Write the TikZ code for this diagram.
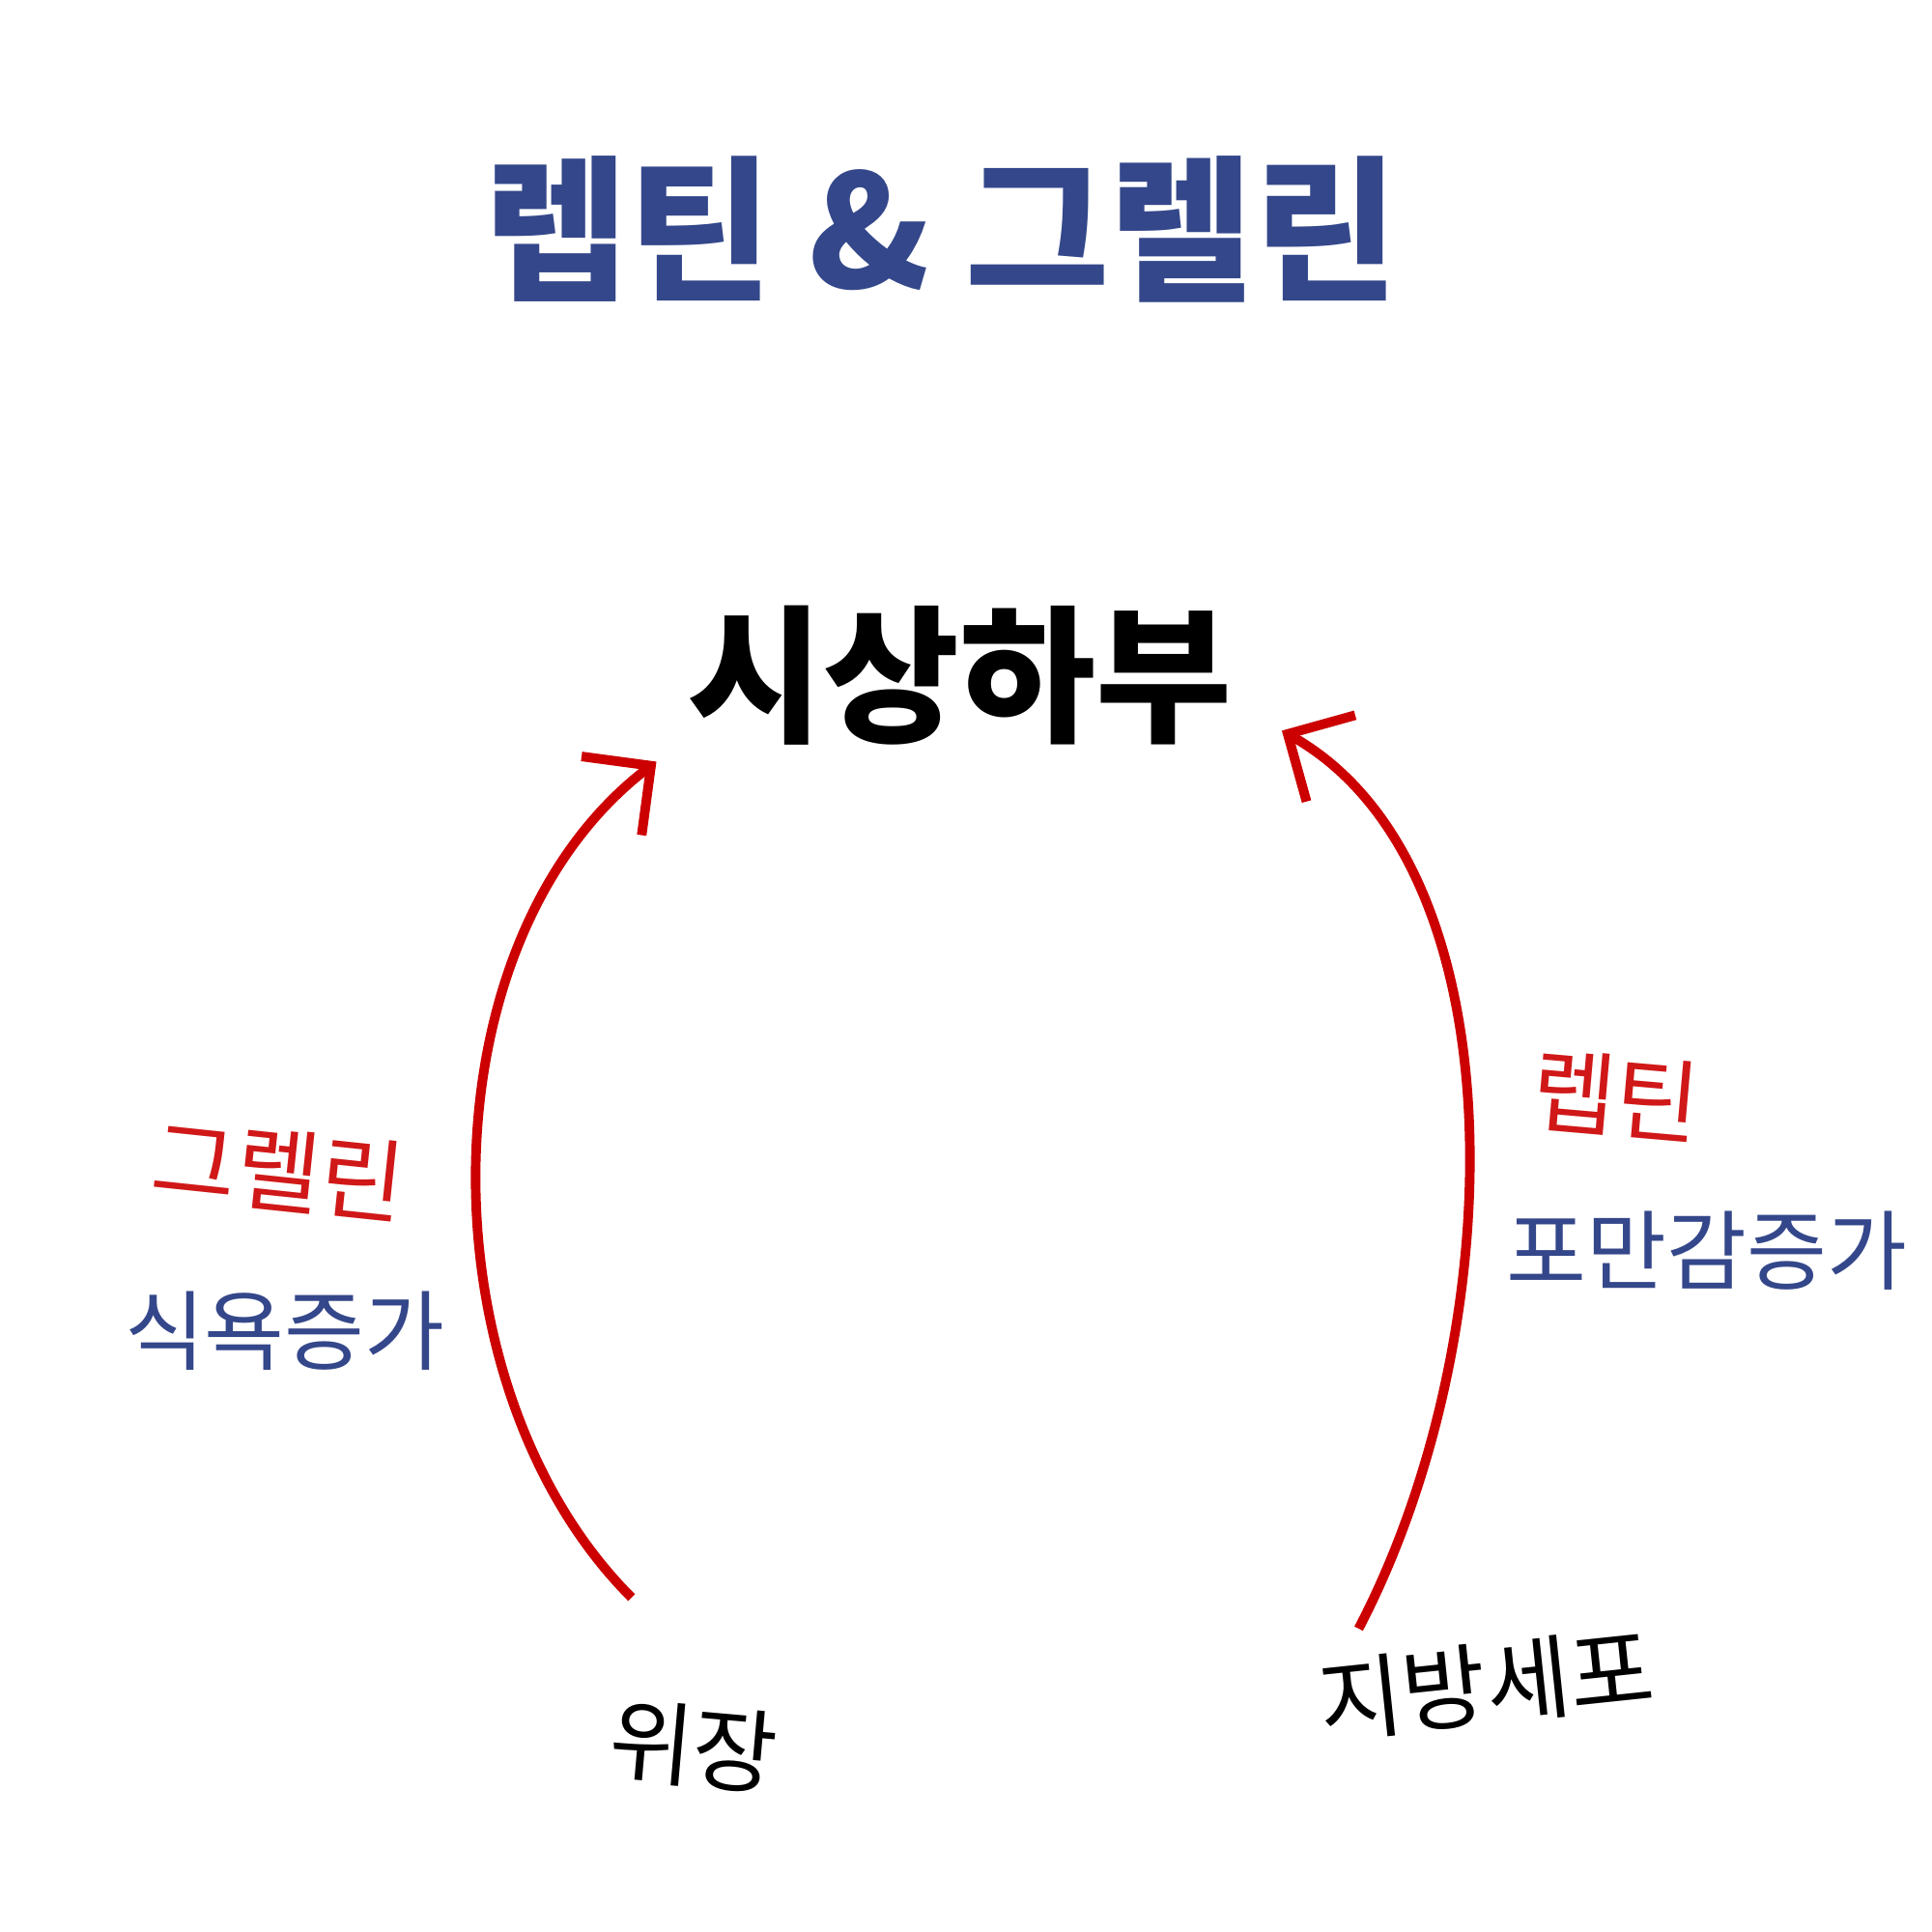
\documentclass[tikz,border=0pt]{standalone}
\usepackage{fontspec}
\setmainfont{Noto Sans CJK KR}
\usetikzlibrary{arrows.meta}
\definecolor{navy}{HTML}{34478A}
\definecolor{hred}{HTML}{D01818}
\tikzset{
  hand/.style={red!80!black,line width=2.2pt,-{Straight Barb[length=4mm,width=8mm]}},
  note/.style={text=navy,font=\fontsize{20}{22}\selectfont},
  scrib/.style={font=\fontsize{21}{23}\selectfont}
}
\begin{document}
\begin{tikzpicture}
  \useasboundingbox (0,0) rectangle (15.6,-15.6);
  \node[text=navy,font=\fontsize{36}{40}\bfseries\selectfont] (title) at (7.6,-1.85) {렙틴 \& 그렐린};
  \node[font=\fontsize{34}{38}\bfseries\selectfont] (hypo) at (7.75,-5.45) {시상하부};

  \node[scrib,rotate=-5] (gut) at (5.6,-14.1) {위장};
  \node[scrib,rotate=6] (fat) at (12.0,-13.6) {지방세포};

  \node[scrib,text=hred,rotate=-6] (ghrelin) at (2.25,-9.45) {그렐린};
  \node[note] (appetite) at (2.3,-10.75) {식욕증가};
  \node[scrib,text=hred,rotate=-5] (leptin) at (13.05,-8.85) {렙틴};
  \node[note] (satiety) at (13.78,-10.1) {포만감증가};

  \coordinate (gutTop) at (5.1,-12.9);
  \coordinate (hypoL) at (5.3,-6.15);
  \coordinate (fatTop) at (10.97,-13.15);
  \coordinate (hypoR) at (10.35,-5.9);

  \draw[hand] (gutTop) .. controls (3.4,-11.2) and (3.4,-7.6) .. (hypoL);
  \draw[hand] (fatTop) .. controls (12.2,-10.8) and (12.3,-7.0) .. (hypoR);
\end{tikzpicture}
\end{document}
